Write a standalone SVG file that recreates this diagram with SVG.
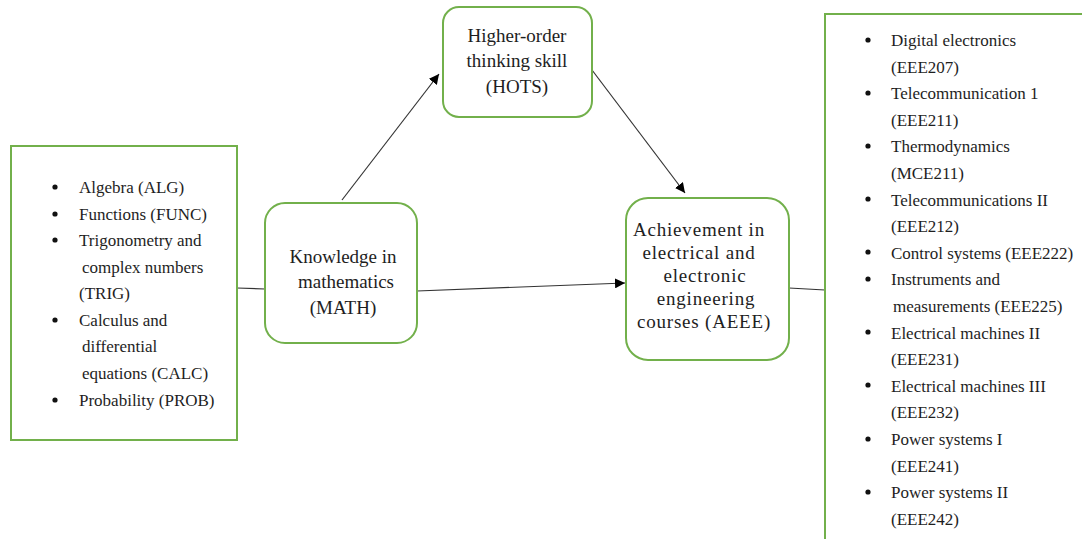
<svg xmlns="http://www.w3.org/2000/svg" width="1082" height="539" viewBox="0 0 1082 539">
<style>
.box{fill:#fff;stroke:#72b04b;stroke-width:2}
.t{font-family:"Liberation Serif","Times New Roman",serif;fill:#1e1e1e;font-size:17px}
.c{font-family:"Liberation Serif","Times New Roman",serif;fill:#1e1e1e;font-size:19px;text-anchor:middle}
.ln{stroke:#333;stroke-width:1.2;fill:none}
.b{fill:#111}
</style>
<defs>
<marker id="ah" viewBox="0 0 10 10" refX="10" refY="5" markerWidth="10" markerHeight="10" markerUnits="userSpaceOnUse" orient="auto">
<path d="M0,0 L10,5 L0,10 z" fill="#000"/>
</marker>
</defs>
<rect width="1082" height="539" fill="#fff"/>
<g id="connectors">
<line class="ln" x1="237" y1="288" x2="265" y2="289"/>
<line class="ln" x1="342" y1="200" x2="439" y2="74" marker-end="url(#ah)"/>
<line class="ln" x1="592" y1="70" x2="685" y2="193" marker-end="url(#ah)"/>
<line class="ln" x1="417" y1="291" x2="625" y2="283" marker-end="url(#ah)"/>
<line class="ln" x1="789" y1="288" x2="825" y2="290"/>
</g>
<g id="left-list">
<rect class="box" x="11" y="146" width="226" height="294"/>
<g class="b">
<circle cx="55" cy="187" r="2.6"/><circle cx="55" cy="214" r="2.6"/><circle cx="55" cy="240" r="2.6"/><circle cx="55" cy="320" r="2.6"/><circle cx="55" cy="400" r="2.6"/>
</g>
<text class="t" x="79" y="193">Algebra (ALG)</text>
<text class="t" x="79" y="220">Functions (FUNC)</text>
<text class="t" x="79" y="246">Trigonometry and</text>
<text class="t" x="82" y="273">complex numbers</text>
<text class="t" x="79" y="299">(TRIG)</text>
<text class="t" x="79" y="326">Calculus and</text>
<text class="t" x="82" y="352">differential</text>
<text class="t" x="82" y="379">equations (CALC)</text>
<text class="t" x="79" y="406">Probability (PROB)</text>
</g>
<g id="math">
<rect class="box" x="265" y="203" width="152" height="140" rx="20"/>
<text class="c" x="343" y="263">Knowledge in</text>
<text class="c" x="346" y="288">mathematics</text>
<text class="c" x="343" y="314">(MATH)</text>
</g>
<g id="hots">
<rect class="box" x="443" y="7" width="149" height="110" rx="16"/>
<text class="c" x="517" y="42">Higher-order</text>
<text class="c" x="517" y="67">thinking skill</text>
<text class="c" x="517" y="93">(HOTS)</text>
</g>
<g id="aeee">
<rect class="box" x="626" y="198" width="163" height="162" rx="22"/>
<text class="c" x="699" y="236" letter-spacing="0.8">Achievement in</text>
<text class="c" x="699" y="259" letter-spacing="0.8">electrical and</text>
<text class="c" x="705" y="282" letter-spacing="0.8">electronic</text>
<text class="c" x="706" y="305" letter-spacing="0.8">engineering</text>
<text class="c" x="704" y="328" letter-spacing="0.8">courses (AEEE)</text>
</g>
<g id="right-list">
<rect class="box" x="825" y="14" width="300" height="600"/>
<g class="b">
<circle cx="868" cy="40" r="2.6"/><circle cx="868" cy="93" r="2.6"/><circle cx="868" cy="146" r="2.6"/><circle cx="868" cy="199" r="2.6"/><circle cx="868" cy="252" r="2.6"/><circle cx="868" cy="279" r="2.6"/><circle cx="868" cy="332" r="2.6"/><circle cx="868" cy="385" r="2.6"/><circle cx="868" cy="439" r="2.6"/><circle cx="868" cy="492" r="2.6"/>
</g>
<text class="t" x="891" y="46">Digital electronics</text>
<text class="t" x="891" y="72.6">(EEE207)</text>
<text class="t" x="891" y="99.2">Telecommunication 1</text>
<text class="t" x="891" y="125.8">(EEE211)</text>
<text class="t" x="891" y="152.4">Thermodynamics</text>
<text class="t" x="891" y="179">(MCE211)</text>
<text class="t" x="891" y="205.6">Telecommunications II</text>
<text class="t" x="891" y="232.2">(EEE212)</text>
<text class="t" x="891" y="258.8">Control systems (EEE222)</text>
<text class="t" x="891" y="285.4">Instruments and</text>
<text class="t" x="893" y="312">measurements (EEE225)</text>
<text class="t" x="891" y="338.6">Electrical machines II</text>
<text class="t" x="891" y="365.2">(EEE231)</text>
<text class="t" x="891" y="391.8">Electrical machines III</text>
<text class="t" x="891" y="418.4">(EEE232)</text>
<text class="t" x="891" y="445">Power systems I</text>
<text class="t" x="891" y="471.6">(EEE241)</text>
<text class="t" x="891" y="498.2">Power systems II</text>
<text class="t" x="891" y="524.8">(EEE242)</text>
</g>
</svg>
